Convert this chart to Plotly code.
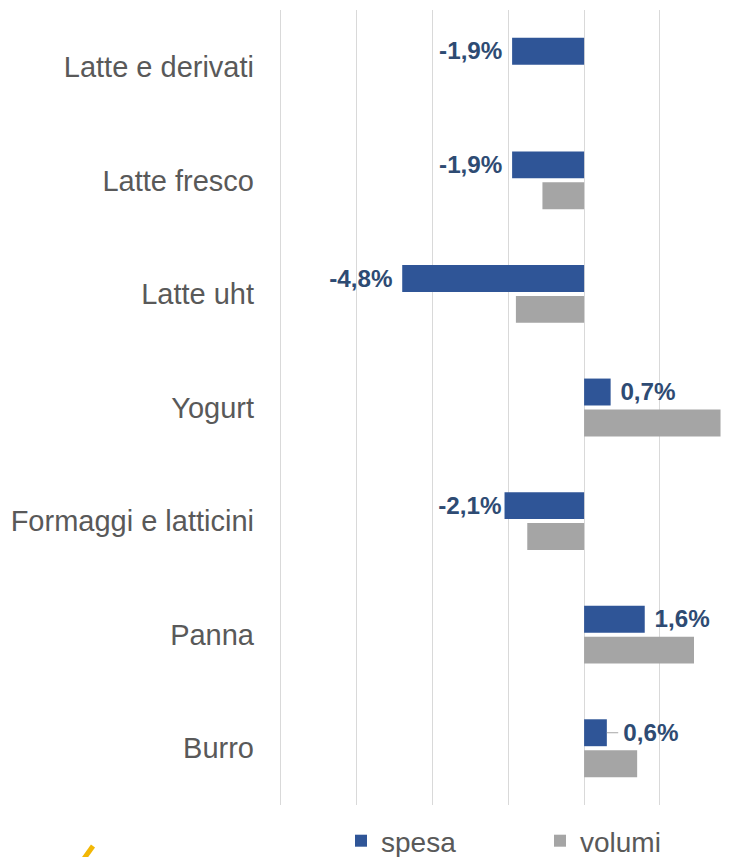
import plotly.graph_objects as go

categories = ["Latte e derivati", "Latte fresco", "Latte uht", "Yogurt",
              "Formaggi e latticini", "Panna", "Burro"]
spesa = [-1.9, -1.9, -4.8, 0.7, -2.1, 1.6, 0.6]
volumi = [None, -1.1, -1.8, 3.6, -1.5, 2.9, 1.4]

def fmt(v):
    s = f"{v:.1f}%".replace(".", ",")
    if v == -2.1:
        return s
    if v == 0.6:
        return "  " + s
    return s + " " if v < 0 else " " + s

spesa_labels = [fmt(v) for v in spesa]

# page has an 8px body margin; figure sized so the 730x857 window shows it like the reference
OFF = 8
W, H = 722, 849
ML, MR, MT, MB = 265, 0, 2, 52
BARGAP, GROUPGAP = 0.455, 0.13

def px_to_paper_x(px):
    return (px - OFF - ML) / (W - ML - MR)

def px_to_paper_y(py):
    return (H - MB - (py - OFF)) / (H - MT - MB)

fig = go.Figure()
fig.add_trace(go.Bar(
    y=categories, x=spesa, name="spesa", orientation="h",
    marker=dict(color="#2F5597", line=dict(width=0)),
    text=spesa_labels, textposition="outside",
    textfont=dict(family="Liberation Sans", size=27, color="#2E4B73", weight="bold"),
    cliponaxis=False, legend="legend",
))
fig.add_trace(go.Bar(
    y=categories, x=volumi, name="volumi", orientation="h",
    marker=dict(color="#A5A5A5", line=dict(width=0)),
    legend="legend2",
))

# leader line of the "Burro" spesa label
i_burro = categories.index("Burro")
spesa_shift = -(1 - BARGAP) / 4
fig.add_shape(type="line", xref="x", yref="y",
              x0=spesa[i_burro], x1=spesa[i_burro] + 0.3,
              y0=categories[i_burro], y1=categories[i_burro],
              y0shift=spesa_shift, y1shift=spesa_shift,
              line=dict(color="#A6A6A6", width=1))

# small yellow logo fragment at the bottom-left
fig.add_shape(type="line", xref="paper", yref="paper",
              x0=px_to_paper_x(83), y0=px_to_paper_y(860),
              x1=px_to_paper_x(93), y1=px_to_paper_y(846),
              line=dict(color="#F2B705", width=5))

legend_common = dict(orientation="h", xanchor="left", yanchor="middle",
                     y=px_to_paper_y(841),
                     font=dict(family="Liberation Sans", size=28, color="#595959"),
                     itemwidth=30, bgcolor="rgba(0,0,0,0)", borderwidth=0)

fig.update_layout(
    width=W, height=H,
    margin=dict(l=ML, r=MR, t=MT, b=MB, pad=0, autoexpand=False),
    paper_bgcolor="white", plot_bgcolor="white",
    barmode="group", bargap=BARGAP, bargroupgap=GROUPGAP,
    showlegend=True,
    legend=dict(x=px_to_paper_x(341), **legend_common),
    legend2=dict(x=px_to_paper_x(540), **legend_common),
    font=dict(family="Liberation Sans", color="#595959"),
)
fig.update_xaxes(range=[-8.21, 3.85], dtick=2, tick0=0, showgrid=True,
                 gridcolor="#D9D9D9", gridwidth=1, zeroline=False,
                 showticklabels=False, showline=False, ticks="")
fig.update_yaxes(autorange="reversed", showgrid=False, zeroline=False,
                 showline=False, ticks="", ticklabelstandoff=18,
                 tickfont=dict(family="Liberation Sans", size=29, color="#595959"))

fig.write_html("out.html")
